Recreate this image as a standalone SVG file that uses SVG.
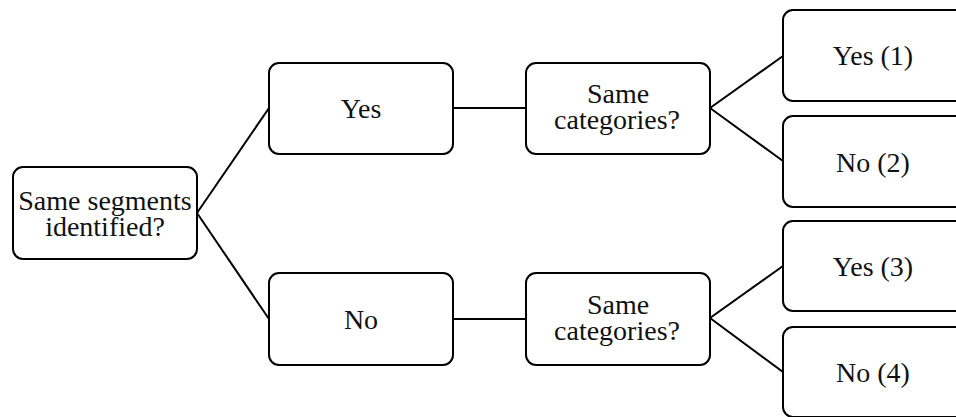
<svg xmlns="http://www.w3.org/2000/svg" width="956" height="417" viewBox="0 0 956 417">
<style>
.box{fill:#fff;stroke:#000;stroke-width:2}
.lbl{font-family:"Liberation Serif","Times New Roman",serif;font-size:28px;fill:#111;text-anchor:middle}
.con line{stroke:#000;stroke-width:2}
</style>
<rect width="956" height="417" fill="#fff"/>
<g class="con" id="connectors">
<line x1="197" y1="213" x2="269" y2="108"/>
<line x1="197" y1="213" x2="269" y2="319"/>
<line x1="453" y1="108" x2="526" y2="108"/>
<line x1="453" y1="319" x2="526" y2="319"/>
<line x1="710" y1="108" x2="783" y2="56"/>
<line x1="710" y1="108" x2="783" y2="161"/>
<line x1="710" y1="318" x2="783" y2="266"/>
<line x1="710" y1="318" x2="783" y2="372"/>
</g>
<g id="root"><rect class="box" x="13" y="167" width="184" height="92" rx="10"/>
<text class="lbl" x="105" y="210">Same segments</text><text class="lbl" x="105" y="236">identified?</text></g>
<g id="yes"><rect class="box" x="269" y="63" width="184" height="91" rx="10"/>
<text class="lbl" x="361" y="118">Yes</text></g>
<g id="no"><rect class="box" x="269" y="273" width="184" height="92" rx="10"/>
<text class="lbl" x="361" y="329">No</text></g>
<g id="cat1"><rect class="box" x="526" y="63" width="184" height="91" rx="10"/>
<text class="lbl" x="618" y="103">Same</text><text class="lbl" x="617" y="129">categories?</text></g>
<g id="cat2"><rect class="box" x="526" y="273" width="184" height="92" rx="10"/>
<text class="lbl" x="618" y="314">Same</text><text class="lbl" x="617" y="340">categories?</text></g>
<g id="leaf1"><rect class="box" x="783" y="10" width="184" height="91" rx="10"/>
<text class="lbl" x="873" y="65">Yes (1)</text></g>
<g id="leaf2"><rect class="box" x="783" y="116" width="184" height="91" rx="10"/>
<text class="lbl" x="873" y="172">No (2)</text></g>
<g id="leaf3"><rect class="box" x="783" y="221" width="184" height="90" rx="10"/>
<text class="lbl" x="873" y="276">Yes (3)</text></g>
<g id="leaf4"><rect class="box" x="783" y="327" width="184" height="90" rx="10"/>
<text class="lbl" x="873" y="382">No (4)</text></g>
</svg>
